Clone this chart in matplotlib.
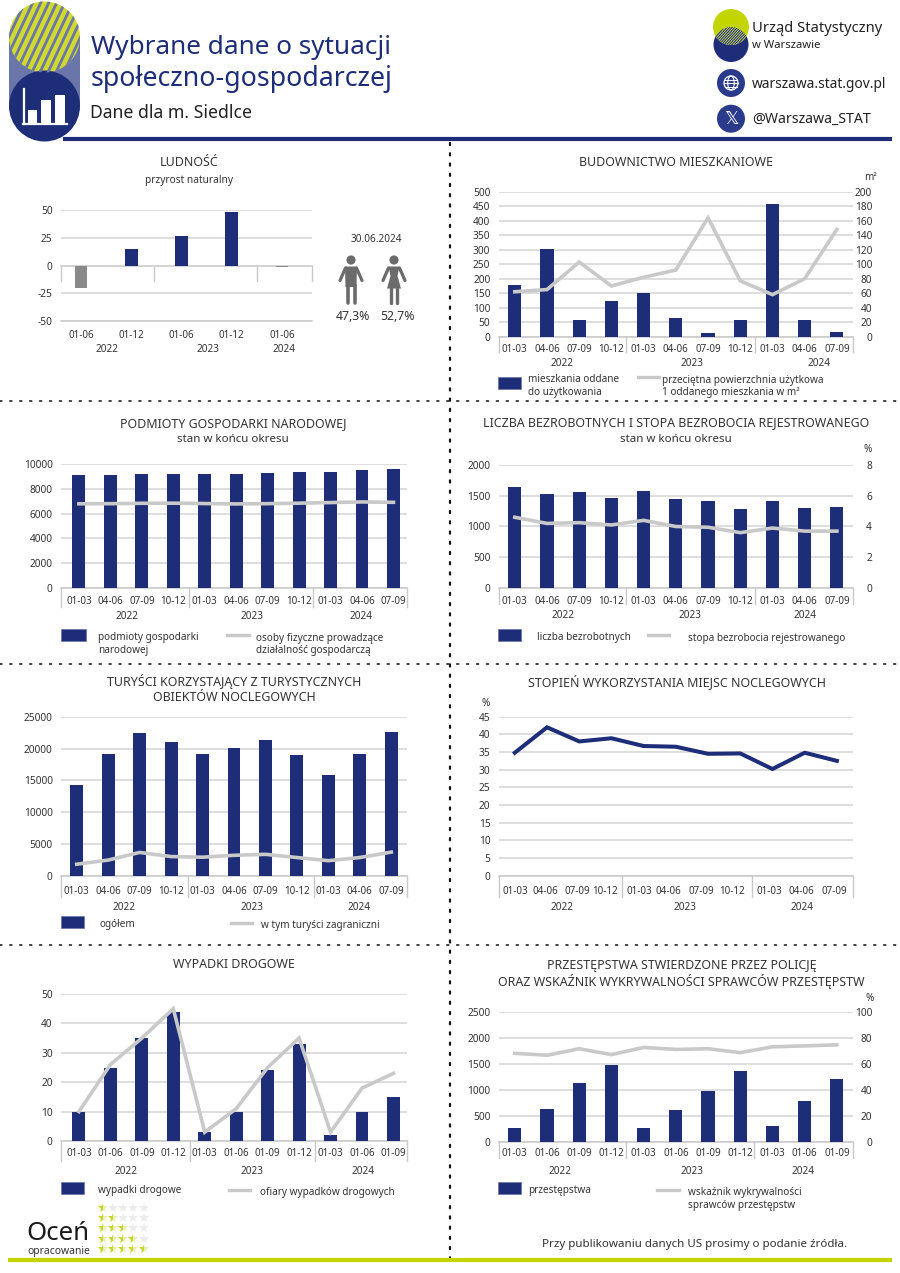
import numpy as np
import matplotlib
matplotlib.use("Agg")
import matplotlib.pyplot as plt
from matplotlib.patches import Circle, Rectangle, Polygon, Ellipse

plt.rcParams['font.family'] = ['Noto Sans', 'DejaVu Sans']
plt.rcParams['axes.unicode_minus'] = False

NAVY = '#1d2d78'
MID = '#6a75a9'
LIME = '#c3d500'
GREY = '#c9c9c9'
GRID = '#d4d4d4'
TXT = '#333333'
W, H = 900, 1273
TITLE = 8.95

# data
quarters = ['01-03', '04-06', '07-09', '10-12', '01-03', '04-06', '07-09', '10-12', '01-03', '04-06', '07-09']
cumul = ['01-03', '01-06', '01-09', '01-12', '01-03', '01-06', '01-09', '01-12', '01-03', '01-06', '01-09']
years = ['2022', '2023', '2024']

pop_periods = ['01-06', '01-12', '01-06', '01-12', '01-06']
pop_growth = [-20, 15, 26.5, 48, -1]

flats_done = [180, 301, 56, 124, 151, 66, 12, 57, 457, 59, 15]
flats_area = [62, 65, 103, 70, 82, 92, 164, 77, 58, 80, 148]

entities = [9100, 9130, 9180, 9200, 9180, 9240, 9290, 9390, 9390, 9530, 9600]
entities_natural = [6800, 6810, 6840, 6850, 6820, 6790, 6810, 6850, 6900, 6950, 6920]

unemployed = [1645, 1535, 1560, 1465, 1585, 1440, 1420, 1280, 1420, 1295, 1310]
unemp_rate = [4.6, 4.2, 4.25, 4.1, 4.4, 4.0, 3.95, 3.6, 3.9, 3.7, 3.7]

tourists = [14300, 19200, 22400, 21050, 19150, 20100, 21300, 19000, 15800, 19150, 22600]
tourists_foreign = [1850, 2500, 3700, 3050, 2950, 3250, 3400, 2900, 2400, 2900, 3750]

occupancy = [34.8, 42, 38, 38.9, 36.7, 36.5, 34.5, 34.6, 30.2, 34.8, 32.5]

accidents = [10, 25, 35, 44, 3, 10, 24, 33, 2, 10, 15]
victims = [10, 26, 35, 45, 3, 11, 25, 35, 3, 18, 23]

crimes = [260, 635, 1120, 1480, 265, 605, 970, 1365, 295, 790, 1200]
detection = [68, 66.5, 71.5, 67, 72.5, 71, 71.5, 68.5, 73, 73.7, 74.5]

fig = plt.figure(figsize=(9, 12.73), dpi=100)
bg = fig.add_axes([0, 0, 1, 1])
bg.set_xlim(0, W)
bg.set_ylim(H, 0)
bg.axis('off')


def txt(x, y, s, size=7.2, ha='center', color=TXT, **kw):
    return bg.text(x, y + 1, s, fontsize=size, ha=ha, va='center', color=color, **kw)


def chart(box, cats, bars, ticks, line=None, right=None, right_ticks=None, colors=NAVY, bar_width=0.41,
          shift=0.0, label_pad=13, nudge=None, seps=(), sep_bottom=None, year_pos=()):
    l, t, r, b = box
    ax = fig.add_axes([l / W, 1 - b / H, (r - l) / W, (b - t) / H])
    ax.patch.set_alpha(0)
    n = len(cats)
    x = np.arange(n)
    if bars is not None:
        ax.bar(x, bars, width=bar_width, color=colors, zorder=3)
    ax.set_xlim(-0.5 - shift, n - 0.5 - shift)
    ax.set_ylim(ticks[0], ticks[-1])
    ax.set_yticks(ticks)
    ax.grid(axis='y', color=GRID, lw=1.1, zorder=0)
    ax.set_axisbelow(True)
    for s in ['top', 'left', 'right']:
        ax.spines[s].set_visible(False)
    ax.spines['bottom'].set_color(GREY)
    ax.spines['bottom'].set_linewidth(1.1)
    lab_x = x if nudge is None else x + np.array(nudge)
    ax.set_xticks(lab_x)
    ax.set_xticklabels(cats)
    ax.tick_params(axis='x', length=0, labelsize=7.1, labelcolor=TXT, pad=(label_pad - 4.5) * 0.72)
    ax.tick_params(axis='y', length=0, labelsize=7.3, labelcolor=TXT, pad=6)
    if line is not None:
        if right is None:
            ax.plot(x, line, color=GREY, lw=2.6, zorder=5, solid_joinstyle='miter')
        else:
            ax2 = ax.twinx()
            ax2.plot(x, line, color=GREY, lw=2.6, zorder=5, solid_joinstyle='miter')
            ax2.set_ylim(right_ticks[0], right_ticks[-1])
            ax2.set_yticks(right_ticks)
            ax2.tick_params(axis='y', length=0, labelsize=7.3, labelcolor=TXT, pad=13.7)
            for lab in ax2.get_yticklabels():
                lab.set_ha('right')
            for s in ax2.spines.values():
                s.set_visible(False)
    for sx in seps:
        bg.plot([sx, sx], [b, sep_bottom], color=GREY, lw=1.0)
    for yx, yy, ys in year_pos:
        txt(yx, yy, ys, size=7.2)
    return ax


def legend(bar_x, bar_y, text_x, bar_lines, line_x, line_y, ltext_x, line_lines, bar_w=23, line_w=21, dy=12.7, text_y=None):
    bg.add_patch(Rectangle((bar_x, bar_y - 6), bar_w, 12, fc=NAVY, ec=MID, lw=0.5))
    if text_y is None:
        text_y = bar_y + 2
    for i, s in enumerate(bar_lines):
        txt(text_x, text_y + i * dy, s, ha='left')
    bg.plot([line_x, line_x + line_w], [line_y, line_y], color=GREY, lw=2.4)
    for i, s in enumerate(line_lines):
        txt(ltext_x, line_y + 2 + i * dy, s, ha='left')


# header
bg.add_patch(Rectangle((9, 37), 71, 69, fc=MID, ec='none'))
top = Circle((44.5, 37), 35.5, fc='#d0d92e', ec='none')
bg.add_patch(top)
for k in np.arange(-20, 140, 8):
    ln, = bg.plot([k - 10, k + 30], [85, 0], color=MID, lw=2.0, solid_capstyle='butt')
    ln.set_clip_path(top)
bg.add_patch(Circle((44.5, 106), 35.5, fc=NAVY, ec='none'))
for bx, bt in [(27.5, 110), (41, 100), (55, 95)]:
    bg.add_patch(Rectangle((bx, bt), 9.5, 123 - bt, fc='white', ec='none'))
bg.plot([23.5, 23.5], [89, 124], color='white', lw=1.6)
bg.plot([23, 67], [123.5, 123.5], color='white', lw=1.6)
bg.plot([63, 892], [139.3, 139.3], color=NAVY, lw=3, solid_capstyle='butt')
txt(91, 46, 'Wybrane dane o sytuacji', size=18.8, ha='left', color=NAVY)
txt(91, 78, 'społeczno-gospodarczej', size=19.2, ha='left', color=NAVY)
txt(90, 112, 'Dane dla m. Siedlce', size=12.7, ha='left', color='#222222')

# logo
bg.add_patch(Circle((731, 44.5), 17.5, fc=NAVY, ec='none'))
bg.add_patch(Circle((731, 27), 18, fc=LIME, ec='none'))
dx = np.linspace(-15.6, 15.6, 40)
lens_low = 27 + np.sqrt(18 ** 2 - dx ** 2)
lens_up = 44.5 - np.sqrt(17.5 ** 2 - dx ** 2)
lens_pts = np.column_stack([np.r_[731 + dx, 731 + dx[::-1]], np.r_[lens_up, lens_low[::-1]]])
lens = Polygon(lens_pts, fc='#d6df5a', ec='none')
bg.add_patch(lens)
for k in np.arange(700, 770, 2.6):
    ln, = bg.plot([k - 12, k + 12], [50, 24], color=NAVY, lw=0.75)
    ln.set_clip_path(lens)
txt(752, 27, 'Urząd Statystyczny', size=10.6, ha='left', color='#222222')
txt(752, 44.5, 'w Warszawie', size=8.1, ha='left', color='#222222')
bg.add_patch(Circle((731, 83), 14, fc='#2c3a8c', ec='none'))
bg.add_patch(Circle((731, 83), 7, fc='none', ec='white', lw=0.9))
bg.add_patch(Ellipse((731, 83), 6.5, 14, fc='none', ec='white', lw=0.8))
bg.plot([724, 738], [83, 83], color='white', lw=0.8)
bg.plot([725, 737], [79.5, 79.5], color='white', lw=0.7)
bg.plot([725, 737], [86.5, 86.5], color='white', lw=0.7)
bg.add_patch(Circle((731, 118.7), 14, fc='#2c3a8c', ec='none'))
txt(731, 117.7, '\U0001D54F', size=13, color='white', family='DejaVu Sans')
txt(752, 83, 'warszawa.stat.gov.pl', size=9.9, ha='left', color='#222222', weight='medium')
txt(752, 118, '@Warszawa_STAT', size=10.2, ha='left', color='#222222')

# dotted separators
for y in [400.5, 663.5, 945]:
    bg.plot([0, W], [y, y], color='#333333', lw=1.3, ls=(0, (1, 4.5)), dash_capstyle='round')
bg.plot([450, 450], [143, 1258], color='#111111', lw=1.6, ls=(0, (1, 3.6)), dash_capstyle='round')
bg.plot([8, 892], [1260, 1260], color=LIME, lw=3, solid_capstyle='butt')

# LUDNOŚĆ
txt(189, 161, 'LUDNOŚĆ', size=TITLE)
txt(189, 179, 'przyrost naturalny', size=7.3)
chart((61, 210, 312, 321), pop_periods, pop_growth, [-50, -25, 0, 25, 50], bar_width=0.25,
      colors=['#8a8a8a', NAVY, NAVY, NAVY, '#8a8a8a'], label_pad=14, shift=-0.1)
bg.plot([61, 312], [265.6, 265.6], color=GREY, lw=1.1)
for sx in [61, 154, 257, 312]:
    bg.plot([sx, sx], [265.6, 281], color=GREY, lw=1.0)
txt(107, 349, '2022')
txt(208, 348, '2023')
txt(284, 349, '2024')
txt(376, 239, '30.06.2024')
PERSON = '#6b6b6b'
for cx in [351, 394]:
    bg.add_patch(Circle((cx, 260), 4.6, fc=PERSON, ec='none'))
    bg.plot([cx - 5.5, cx - 11], [268, 280.5], color=PERSON, lw=2.3, solid_capstyle='round')
    bg.plot([cx + 5.5, cx + 11], [268, 280.5], color=PERSON, lw=2.3, solid_capstyle='round')
bg.add_patch(Polygon([(345, 266.5), (357, 266.5), (356.5, 287), (345.5, 287)], fc=PERSON, ec='none'))
bg.plot([348, 348], [285, 303], color=PERSON, lw=2.6, solid_capstyle='round')
bg.plot([354.5, 354.5], [285, 303], color=PERSON, lw=2.6, solid_capstyle='round')
bg.add_patch(Polygon([(388.5, 266.5), (399.5, 266.5), (397.5, 276), (401, 288.5), (387, 288.5), (390.5, 276)], fc=PERSON, ec='none'))
bg.plot([391, 391], [287, 303], color=PERSON, lw=2.4, solid_capstyle='round')
bg.plot([397, 397], [287, 303], color=PERSON, lw=2.4, solid_capstyle='round')
txt(353, 315, '47,3%', size=8.8)
txt(397, 315, '52,7%', size=8.8)

# BUDOWNICTWO
txt(675.7, 161, 'BUDOWNICTWO MIESZKANIOWE', size=TITLE)
chart((498.7, 191.7, 853, 336.7), quarters, flats_done, list(range(0, 501, 50)), line=flats_area,
      right=True, right_ticks=list(range(0, 201, 20)), label_pad=11.3,
      seps=[498.7, 626.3, 754.7, 853.3], sep_bottom=351.7,
      year_pos=[(562, 362.7, years[0]), (691.7, 362.7, years[1]), (819, 362.7, years[2])])
txt(877, 177, 'm²', ha='right')
legend(498, 382.5, 528, ['mieszkania oddane', 'do użytkowania'], 638, 377, 662,
       ['przeciętna powierzchnia użytkowa', '1 oddanego mieszkania w m²'], text_y=379)

# PODMIOTY
txt(233, 422.7, 'PODMIOTY GOSPODARKI NARODOWEJ', size=TITLE)
txt(233, 438, 'stan w końcu okresu', size=8.3)
chart((61, 464.3, 407, 587.7), quarters, entities, list(range(0, 10001, 2000)), line=entities_natural,
      shift=0.07, seps=[61, 189, 313, 407], sep_bottom=607,
      year_pos=[(127, 615.7, years[0]), (252, 615.7, years[1]), (361, 615.7, years[2])])
legend(61, 634.5, 98, ['podmioty gospodarki', 'narodowej'], 227, 635, 256,
       ['osoby fizyczne prowadzące', 'działalność gospodarczą'], bar_w=25, line_w=22)

# BEZROBOCIE
txt(675.7, 422, 'LICZBA BEZROBOTNYCH I STOPA BEZROBOCIA REJESTROWANEGO', size=TITLE)
txt(675.7, 438, 'stan w końcu okresu', size=8.3)
chart((498.7, 465, 853, 588), quarters, unemployed, list(range(0, 2001, 500)), line=unemp_rate,
      right=True, right_ticks=[0, 2, 4, 6, 8], label_pad=12.7,
      seps=[498.7, 625.7, 754.7, 853], sep_bottom=604,
      year_pos=[(563, 615, years[0]), (690, 615, years[1]), (805, 615, years[2])])
txt(872, 448, '%', ha='right')
legend(498, 634.5, 537, ['liczba bezrobotnych'], 648, 635, 688, ['stopa bezrobocia rejestrowanego'])

# TURYŚCI
txt(234, 680.7, 'TURYŚCI KORZYSTAJĄCY Z TURYSTYCZNYCH', size=TITLE)
txt(234, 696.7, 'OBIEKTÓW NOCLEGOWYCH', size=TITLE)
chart((61, 716.7, 407, 876), quarters, tourists, list(range(0, 25001, 5000)), line=tourists_foreign,
      label_pad=14, seps=[61, 187.7, 314.3, 407], sep_bottom=896.7,
      year_pos=[(124, 906.7, years[0]), (252, 906.7, years[1]), (359, 906.7, years[2])])
legend(61, 921.7, 99, ['ogółem'], 230.7, 922.5, 261, ['w tym turyści zagraniczni'])

# STOPIEŃ
txt(676.7, 680.7, 'STOPIEŃ WYKORZYSTANIA MIEJSC NOCLEGOWYCH', size=TITLE)
ax = chart((498.7, 716.7, 853, 875.7), quarters, None, list(range(0, 46, 5)), label_pad=14.3,
           nudge=[0.03, -0.05, -0.06, -0.19, -0.14, -0.23, -0.21, -0.25, -0.1, -0.1, -0.09],
           seps=[498.7, 622.3, 751.7, 853.3], sep_bottom=896.7,
           year_pos=[(562, 906.7, years[0]), (685, 906.7, years[1]), (802, 906.7, years[2])])
ax.plot(np.arange(len(occupancy)), occupancy, color=NAVY, lw=2.9, zorder=5, solid_joinstyle='miter')
txt(485.7, 702.7, '%')

# WYPADKI
txt(234, 963, 'WYPADKI DROGOWE', size=TITLE)
chart((61, 994, 407, 1141), cumul, accidents, list(range(0, 51, 10)), line=victims,
      shift=0.07, label_pad=12, seps=[61, 189.7, 315, 407], sep_bottom=1160.7,
      year_pos=[(126, 1170, years[0]), (252, 1170, years[1]), (363, 1170, years[2])])
legend(60.7, 1188, 97.7, ['wypadki drogowe'], 229, 1189.5, 260, ['ofiary wypadków drogowych'])

# PRZESTĘPSTWA
txt(681.7, 964, 'PRZESTĘPSTWA STWIERDZONE PRZEZ POLICJĘ', size=TITLE)
txt(681.7, 980.7, 'ORAZ WSKAŹNIK WYKRYWALNOŚCI SPRAWCÓW PRZESTĘPSTW', size=TITLE)
chart((498.7, 1011.7, 853, 1141.7), cumul, crimes, list(range(0, 2501, 500)), line=detection,
      right=True, right_ticks=[0, 20, 40, 60, 80, 100], label_pad=11,
      seps=[498.7, 625.7, 754, 853], sep_bottom=1158,
      year_pos=[(559.7, 1170, years[0]), (692, 1170, years[1]), (802.7, 1170, years[2])])
txt(874, 997.7, '%', ha='right')
legend(498, 1188, 528, ['przestępstwa'], 657, 1189.5, 688, ['wskaźnik wykrywalności', 'sprawców przestępstw'], line_w=22)

# footer
txt(26.5, 1233, 'Oceń', size=18.6, ha='left', color='#1a1a1a')
txt(27, 1250.7, 'opracowanie', size=7.4, ha='left')
for row in range(5):
    for col in range(5):
        sx, sy = 102.7 + col * 10.2, 1208 + row * 10.2
        if col <= row:
            bg.plot([sx], [sy], marker='*', ms=7.4, mew=0, fillstyle='left', mfc='#c8d62a', mfcalt='#e9efba', ls='none')
        else:
            bg.plot([sx], [sy], marker='*', ms=7.4, mew=0, color='#ececec', ls='none')
txt(541.7, 1243, 'Przy publikowaniu danych US prosimy o podanie źródła.', size=8.35, ha='left')

bg.set_xlim(0, W)
bg.set_ylim(H, 0)
fig.savefig('out.png', dpi=100)
